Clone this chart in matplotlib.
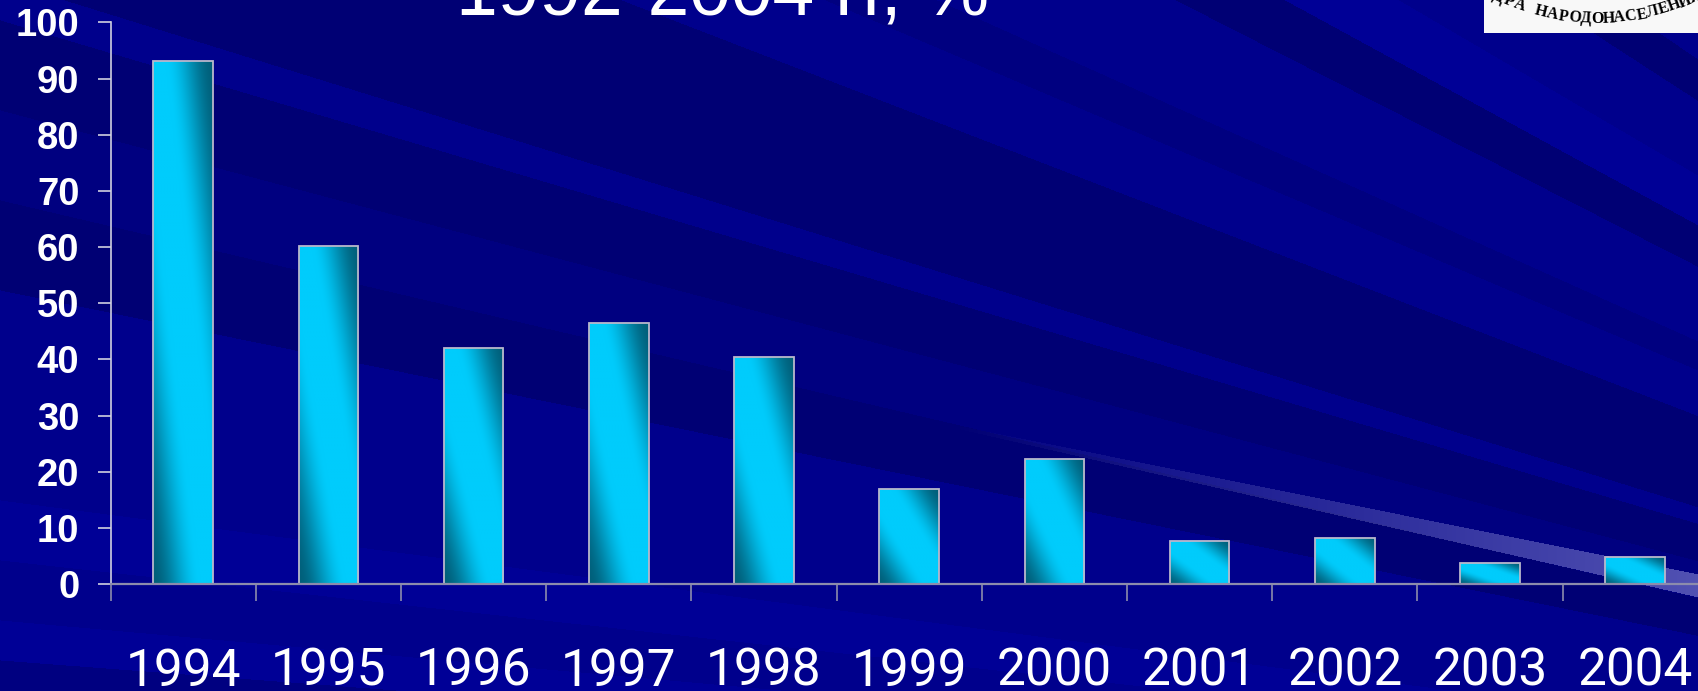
import numpy as np
import matplotlib
matplotlib.use("Agg")
import matplotlib.pyplot as plt
from matplotlib.patches import Rectangle

# ---------------- data ----------------
years = ["1994", "1995", "1996", "1997", "1998", "1999", "2000", "2001", "2002", "2003", "2004"]
values = [93.2, 60.2, 42.1, 46.5, 40.4, 16.9, 22.3, 7.6, 8.2, 3.7, 4.8]
yticks = [0, 10, 20, 30, 40, 50, 60, 70, 80, 90, 100]
title = "1992-2004 гг, %"
logo_arc = "КАФЕДРА НАРОДОНАСЕЛЕНИЯ"
logo_top = "МОСКВА 2002"

W, H, DPI = 1698, 691, 100
fig = plt.figure(figsize=(W / DPI, H / DPI), dpi=DPI)

# ---------------- background (rays) ----------------
yy, xx = np.mgrid[0:H, 0:W].astype(float)
Ox, Oy = 2900.0, 880.0
y0 = Oy - (Oy - yy) * Ox / (Ox - xx)
med = np.array([0, 0, 140]) / 255
dark = np.array([0, 0, 116]) / 255
light = np.array([0, 0, 150]) / 255
mdark = np.array([0, 0, 128]) / 255
bands = [
    (-1e9, -1100, med), (-1100, -1000, dark), (-1000, -820, med), (-820, -700, light),
    (-700, -600, dark), (-600, -420, med), (-420, -350, mdark), (-350, -240, med),
    (-240, -20, dark), (-20, 20, med), (20, 110, dark), (110, 200, mdark),
    (200, 290, dark), (290, 500, med), (500, 560, light), (560, 620, med),
    (620, 660, light), (660, 1e9, mdark),
]
bg = np.zeros((H, W, 3))
for lo, hi, c in bands:
    m = (y0 >= lo) & (y0 < hi)
    bg[m] = c
# light streak
yu = 455 + (574 - 455) * (xx - 1105) / 593
yl = 462 + (597 - 462) * (xx - 1105) / 593
a = np.clip((xx - 950) / 750, 0, 1) * 0.4
sm = (yy >= yu) & (yy <= yl)
streak = np.array([0.8, 0.8, 1.0])
bg[sm] = bg[sm] * (1 - a[sm][:, None]) + a[sm][:, None] * streak

bgax = fig.add_axes([0, 0, 1, 1], zorder=-5)
bgax.imshow(bg, extent=(0, W, H, 0), aspect="auto", interpolation="bilinear")
bgax.set_axis_off()

# ---------------- axes ----------------
ax = fig.add_axes([110.6 / W, 107 / H, 1597.2 / W, 561.6 / H], zorder=1)
ax.patch.set_visible(False)
x = np.arange(len(years))
bw = 0.41
bars = ax.bar(x, values, width=bw, facecolor="none", edgecolor="#B8B8CC",
              linewidth=1.3, zorder=3)

bright = np.array([0, 204, 252]) / 255
darkc = np.array([0, 95, 122]) / 255
ny, nx = 300, 80
u = np.linspace(0, 1, nx)[None, :]
v = np.linspace(1, 0, ny)[:, None]
d = np.abs(u + v - 1)
f = np.clip((1.0 - d) / 0.8, 0, 1)
f = f * f * (3 - 2 * f)
grad = darkc + (bright - darkc) * f[..., None]
for b in bars:
    x0 = b.get_x()
    im = ax.imshow(grad, extent=(x0, x0 + b.get_width(), 0, b.get_height()),
                   aspect="auto", zorder=2, interpolation="bilinear")
    im.set_clip_path(b)

ax.set_xlim(-0.5, len(years) - 0.5)
ax.set_ylim(0, 100)
for s in ["top", "right"]:
    ax.spines[s].set_visible(False)
ax.spines["left"].set_color("#D0D0E0")
ax.spines["left"].set_linewidth(1.2)
ax.spines["bottom"].set_color("#8C8CAC")
ax.spines["bottom"].set_linewidth(1.6)
ax.spines["bottom"].set_zorder(4)

ax.set_yticks(yticks)
ax.set_yticklabels([str(t) for t in yticks], fontsize=27.5, fontweight="bold",
                   color="white", family="Liberation Sans")
ax.tick_params(axis="y", direction="out", length=9.4, width=1.2, color="#D0D0E0", pad=13)

ax.set_xticks(np.arange(-0.5, len(years), 1.0))
ax.set_xticklabels([])
ax.tick_params(axis="x", which="major", direction="out", length=12.2, width=1.2, color="#8C8CAC")
ax.set_xticks(x, minor=True)
ax.set_xticklabels(years, minor=True, fontsize=37, color="white", family="Roboto")
ax.tick_params(axis="x", which="minor", length=0, pad=45)

# ---------------- title ----------------
fig.text(723 / W, 1 - 15 / H, title, ha="center", va="baseline", fontsize=54,
         color="white", family="Liberation Sans")

# ---------------- logo ----------------
fig.patches.append(Rectangle((1484 / W, 1 - 32.5 / H), (W - 1484) / W, 32.5 / H,
                             transform=fig.transFigure, facecolor="#F8F8F8",
                             edgecolor="none", zorder=5))
R = 230.0
cx, cy = 1597.0, 19.0 - R
step = np.degrees(11.3 / R)
i_bottom = 13
for i, ch in enumerate(logo_arc):
    th = (i - i_bottom) * step
    px = cx + R * np.sin(np.radians(th))
    py = cy + R * np.cos(np.radians(th))
    if px < 1490 or px > W + 5 or ch == " ":
        continue
    fig.text(px / W, 1 - py / H, ch, ha="center", va="center", rotation=th,
             rotation_mode="anchor", fontsize=11.5, fontweight="bold",
             family="Liberation Serif", color="black", zorder=6)
fig.text(1603 / W, 1 + 2 / H, logo_top, ha="center", va="center", fontsize=8,
         family="Liberation Serif", color="black", zorder=6)

fig.savefig("out.png", dpi=DPI)
